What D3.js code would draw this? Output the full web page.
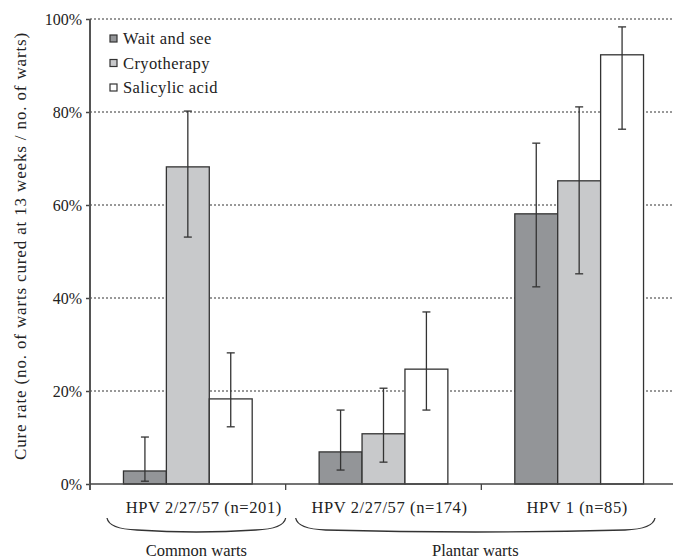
<!DOCTYPE html>
<html>
<head>
<meta charset="utf-8">
<script src="https://cdn.jsdelivr.net/npm/d3@7"></script>
<style>
  body { margin: 0; background: #fff; }
</style>
</head>
<body>
<div id="chart"></div>
<script>
// Data
const categories = ["HPV 2/27/57 (n=201)", "HPV 2/27/57 (n=174)", "HPV 1 (n=85)"];
const series = ["Wait and see", "Cryotherapy", "Salicylic acid"];
const cureRate = [
    [2.8, 68.2, 18.3],
    [6.9, 10.8, 24.7],
    [58.1, 65.2, 92.3]
];
const errLow = [
    [0.6, 53.1, 12.3],
    [3.0, 4.7, 15.9],
    [42.4, 45.2, 76.3]
];
const errHigh = [
    [10.1, 80.2, 28.2],
    [15.9, 20.6, 37.0],
    [73.3, 81.1, 98.3]
];
const yTicks = [0, 20, 40, 60, 80, 100];
const groups = [
    { label: "Common warts", from: 0, to: 0 },
    { label: "Plantar warts", from: 1, to: 2 }
];

const width = 673;
const height = 559;
const fills = ["#939598", "#c8c9cb", "#ffffff"];
const serif = "Liberation Serif";

const svg = d3.select("#chart")
    .append("svg")
    .attr("width", width)
    .attr("height", height)
    .attr("font-family", serif);

const x0 = d3.scaleBand()
    .domain(categories)
    .range([90, 677]);

const x1 = d3.scaleBand()
    .domain(series)
    .range([0, x0.bandwidth()])
    .paddingOuter(0.78);

const y = d3.scaleLinear()
    .domain([0, 100])
    .range([484, 19]);

// Dotted gridlines
svg.append("g")
    .selectAll("line")
    .data(yTicks.filter(d => d > 0))
    .enter()
    .append("line")
    .attr("x1", 90)
    .attr("x2", width)
    .attr("y1", d => y(d))
    .attr("y2", d => y(d))
    .attr("stroke", "#333")
    .attr("stroke-width", 1)
    .attr("stroke-dasharray", "2,2");

// Y axis
const yAxis = svg.append("g")
    .attr("transform", "translate(90,0)")
    .call(d3.axisLeft(y).tickValues(yTicks).tickFormat(d => d + "%").tickSize(4).tickPadding(4))
    .attr("font-family", serif)
    .attr("font-size", 16);
yAxis.select(".domain").remove();
yAxis.selectAll(".tick line").attr("stroke", "#444").attr("stroke-width", 1.5);
yAxis.selectAll(".tick text").attr("fill", "#222");

svg.append("line")
    .attr("x1", 90).attr("x2", 90)
    .attr("y1", y(100)).attr("y2", y(0) + 6)
    .attr("stroke", "#555").attr("stroke-width", 2);

// Bars
const groupSel = svg.append("g")
    .selectAll("g")
    .data(categories)
    .enter()
    .append("g")
    .attr("transform", d => `translate(${x0(d)},0)`);

groupSel.selectAll("rect")
    .data((d, i) => series.map((s, j) => ({ s, j, v: cureRate[i][j] })))
    .enter()
    .append("rect")
    .attr("x", d => x1(d.s))
    .attr("y", d => y(d.v))
    .attr("width", x1.bandwidth())
    .attr("height", d => y(0) - y(d.v))
    .attr("fill", d => fills[d.j])
    .attr("stroke", "#333")
    .attr("stroke-width", 1.3);

// Error bars
const errSel = groupSel.selectAll("g.err")
    .data((d, i) => series.map((s, j) => ({ s, lo: errLow[i][j], hi: errHigh[i][j] })))
    .enter()
    .append("g")
    .attr("class", "err")
    .attr("transform", d => `translate(${x1(d.s) + x1.bandwidth() / 2},0)`)
    .attr("stroke", "#333")
    .attr("stroke-width", 1.3);

errSel.append("line").attr("y1", d => y(d.lo)).attr("y2", d => y(d.hi));
errSel.append("line").attr("x1", -4).attr("x2", 4).attr("y1", d => y(d.lo)).attr("y2", d => y(d.lo));
errSel.append("line").attr("x1", -4).attr("x2", 4).attr("y1", d => y(d.hi)).attr("y2", d => y(d.hi));

// X axis
svg.append("line")
    .attr("x1", 90).attr("x2", width)
    .attr("y1", y(0)).attr("y2", y(0))
    .attr("stroke", "#444").attr("stroke-width", 1.5);

svg.append("g")
    .selectAll("line")
    .data(categories.slice(1))
    .enter()
    .append("line")
    .attr("x1", d => x0(d)).attr("x2", d => x0(d))
    .attr("y1", y(0)).attr("y2", y(0) + 6)
    .attr("stroke", "#444").attr("stroke-width", 1.3);

svg.append("g")
    .selectAll("text")
    .data(categories)
    .enter()
    .append("text")
    .attr("x", (d, i) => x0(d) + x0.bandwidth() / 2 + [16, 6, -2][i])
    .attr("y", 513)
    .attr("text-anchor", "middle")
    .attr("font-size", 16.5)
    .attr("letter-spacing", 0.6)
    .attr("fill", "#222")
    .text(d => d);

// Braces under the groups
groups.forEach((g, i) => {
    const xa = x0(categories[g.from]) + (i === 0 ? 17 : 10);
    const xb = x0(categories[g.to]) + x0.bandwidth() - (i === 0 ? 0 : 22);
    const top = 518;
    const path = `M${xa},${top} Q${xa + 2},${top + 11} ${xa + 30},${top + 12}` +
        ` Q${(xa + xb) / 2},${top + 16} ${xb - 30},${top + 12}` +
        ` Q${xb - 2},${top + 11} ${xb},${top}`;
    svg.append("path")
        .attr("d", path)
        .attr("fill", "none")
        .attr("stroke", "#333")
        .attr("stroke-width", 1.3);
    svg.append("text")
        .attr("x", (xa + xb) / 2)
        .attr("y", 556)
        .attr("text-anchor", "middle")
        .attr("font-size", 16.5)
        .attr("fill", "#222")
        .text(g.label);
});

// Y axis title
svg.append("text")
    .attr("transform", "translate(26,246) rotate(-90)")
    .attr("text-anchor", "middle")
    .attr("font-size", 17)
    .attr("letter-spacing", 0.85)
    .attr("fill", "#222")
    .text("Cure rate (no. of warts cured at 13 weeks / no. of warts)");

// Legend
const legend = svg.append("g")
    .selectAll("g")
    .data(series)
    .enter()
    .append("g")
    .attr("transform", (d, i) => `translate(110,${35 + i * 24.5})`);

legend.append("rect")
    .attr("width", 7)
    .attr("height", 7)
    .attr("fill", (d, i) => fills[i])
    .attr("stroke", "#333")
    .attr("stroke-width", 1.2);

legend.append("text")
    .attr("x", 13)
    .attr("y", 9)
    .attr("font-size", 16.5)
    .attr("letter-spacing", 0.4)
    .attr("fill", "#222")
    .text(d => d);
</script>
</body>
</html>
